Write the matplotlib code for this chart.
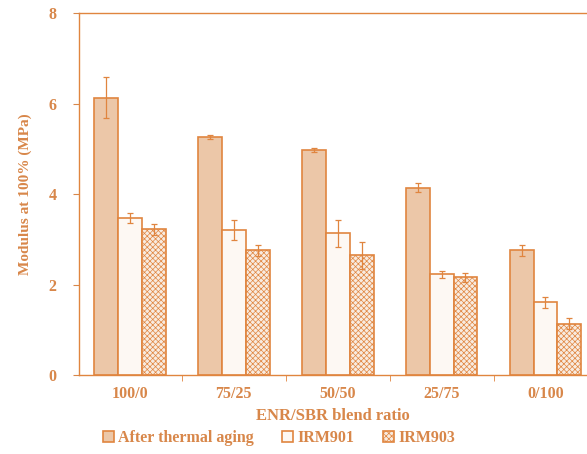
import numpy as np
import matplotlib
matplotlib.use("Agg")
import matplotlib.pyplot as plt

# Values
ratios = ["100/0", "75/25", "50/50", "25/75", "0/100"]
aging = [6.13, 5.26, 4.97, 4.14, 2.76]
aging_err = [0.45, 0.05, 0.05, 0.1, 0.12]
irm901 = [3.47, 3.2, 3.13, 2.23, 1.61]
irm901_err = [0.12, 0.22, 0.3, 0.08, 0.12]
irm903 = [3.22, 2.76, 2.65, 2.16, 1.13]
irm903_err = [0.12, 0.12, 0.3, 0.1, 0.12]

orange = "#e0853f"
text_c = "#d8874a"
plt.rcParams["font.family"] = ["Liberation Serif"]
plt.rcParams["font.weight"] = "bold"
plt.rcParams["hatch.color"] = "#e9bc9a"
plt.rcParams["hatch.linewidth"] = 0.5

fig = plt.figure(figsize=(5.87, 4.54), dpi=100)
ax = fig.add_axes([0.1346, 0.174, 0.8654, 0.797])

x = np.arange(len(ratios))
w = 0.23
ekw = dict(ecolor=orange, elinewidth=0.9, capsize=2.5, capthick=0.9)
ax.bar(x - w, aging, w, yerr=aging_err, color="#ecc7a8", edgecolor=orange,
       linewidth=1.2, label="After thermal aging", error_kw=ekw)
ax.bar(x, irm901, w, yerr=irm901_err, color="#fdf8f3", edgecolor=orange,
       linewidth=1.2, label="IRM901", error_kw=ekw)
ax.bar(x + w, irm903, w, yerr=irm903_err, color="#f8ebe0", edgecolor=orange,
       linewidth=1.2, hatch="xxxxxx", label="IRM903", error_kw=ekw)

ax.set_xlim(-0.49, 4.4)
ax.set_ylim(0, 8)
ax.set_yticks([0, 2, 4, 6, 8])
ax.set_xticks(x)
ax.set_xticklabels(ratios)
ax.set_xticks(x[:-1] + 0.5, minor=True)
ax.tick_params(axis="x", which="major", length=0, pad=8)
ax.tick_params(axis="x", which="minor", length=4, color=orange)
ax.tick_params(axis="y", length=4, color=orange, direction="out", pad=12)
ax.tick_params(colors=text_c, labelsize=11.5)
for lbl in ax.get_xticklabels() + ax.get_yticklabels():
    lbl.set_color(text_c)
    lbl.set_fontweight("bold")

for s in ["left", "bottom", "top"]:
    ax.spines[s].set_color(orange)
    ax.spines[s].set_linewidth(1.0)
ax.spines["right"].set_visible(False)

ax.set_xlabel("ENR/SBR blend ratio", color=text_c, fontsize=12,
              fontweight="bold", labelpad=4)
ax.set_ylabel("Modulus at 100% (MPa)", color=text_c, fontsize=11,
              fontweight="bold", labelpad=12)

leg = fig.legend(loc="center", bbox_to_anchor=(0.475, 0.035), ncol=3,
                 frameon=False, fontsize=11.5, handlelength=0.7,
                 handleheight=0.7, handletextpad=0.25, columnspacing=1.8,
                 borderpad=0)
for t in leg.get_texts():
    t.set_color(text_c)

fig.savefig("out.png", dpi=100)
